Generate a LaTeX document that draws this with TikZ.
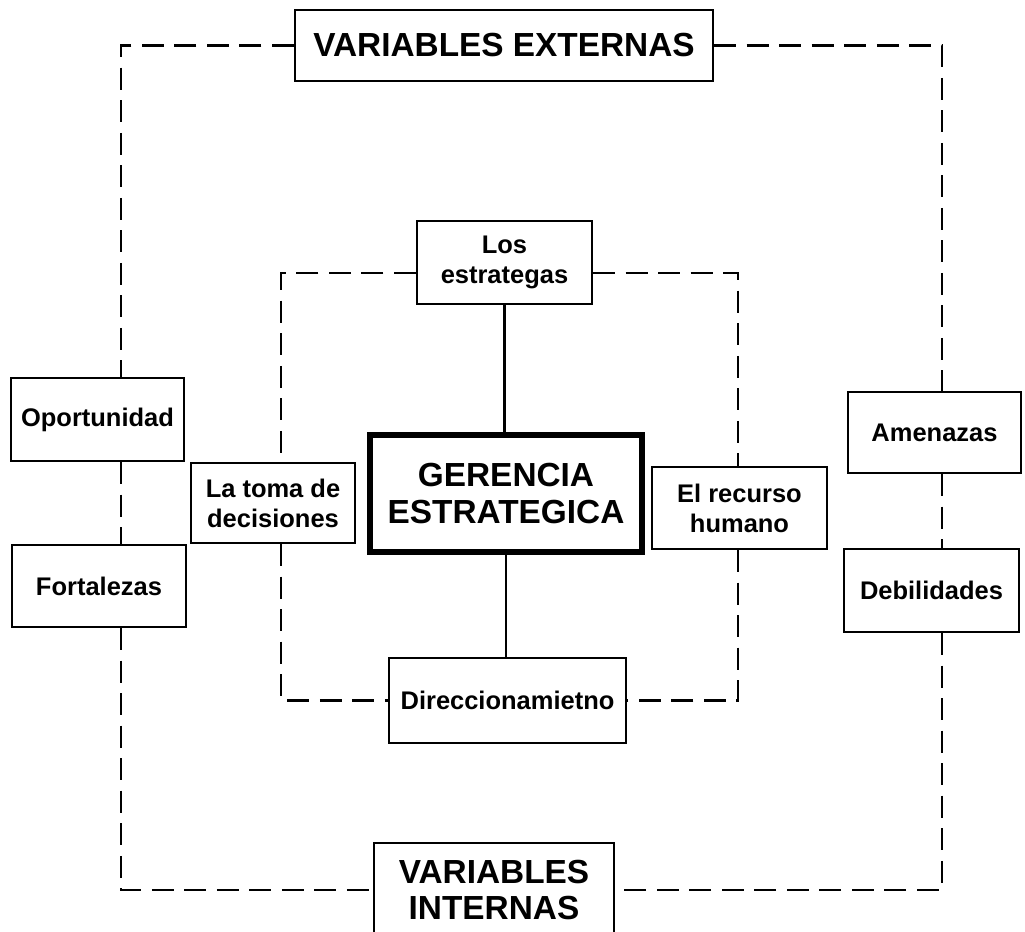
\documentclass[tikz,border=0pt]{standalone}
\usepackage{fontspec}
\setmainfont{Liberation Sans}
\tikzset{
  caja/.style={draw, line width=1.4pt, align=center, inner sep=0pt,
    font=\fontsize{14.5}{17}\selectfont\bfseries},
  titulo/.style={caja, font=\fontsize{19}{21}\selectfont\bfseries},
  tam/.style 2 args={minimum width=#1*0.02cm, minimum height=#2*0.02cm},
  guion/.style={line width=1.5pt, dash pattern=on 12.5pt off 6pt},
}
\begin{document}
\begin{tikzpicture}[x=0.02cm, y=-0.02cm] %Gerencia estrategica
            \useasboundingbox (0,0) rectangle (1025,932);

            \node[titulo, tam={418}{71}] (ext) at (504,45.5) {VARIABLES EXTERNAS};
            \node[titulo, tam={240}{94}] (int) at (494,890) {VARIABLES\\INTERNAS};

            \node[caja, tam={173}{83}] (opor) at (97.5,419.5) {Oportunidad};
            \node[caja, tam={174}{82}] (fort) at (99,586) {Fortalezas};
            \node[caja, tam={173}{81}] (amen) at (934.5,432.5) {Amenazas};
            \node[caja, tam={175}{83}] (debi) at (931.5,590.5) {Debilidades};

            \node[caja, tam={175}{83}] (estr) at (504.5,262.5) {Los\\estrategas};
            \node[caja, tam={237}{85}] (dire) at (507.5,700.5) {Direccionamietno};
            \node[caja, tam={164}{80}] (toma) at (273,503) {La toma de\\decisiones};
            \node[caja, tam={175}{82}] (recu) at (739.5,508) {El recurso\\humano};
            \node[titulo, line width=3.2pt, tam={272}{117}] (ger) at (506,493.5) {GERENCIA\\ESTRATEGICA};

            \coordinate (ol) at (121,0);
            \coordinate (or) at (942,0);
            \coordinate (il) at (281,0);
            \coordinate (ir) at (738,0);
            \coordinate (it) at (0,273);

            %marco externo
            \draw[guion] (ext.west) -| (opor.north -| ol);
            \draw[guion] (opor.south -| ol) -- (fort.north -| ol);
            \draw[guion] (fort.south -| ol) |- (int.west);
            \draw[guion] (ext.east) -| (amen.north -| or);
            \draw[guion] (amen.south -| or) -- (debi.north -| or);
            \draw[guion] (debi.south -| or) |- (int.east);

            %marco interno
            \draw[guion] (estr.west |- it) -| (toma.north -| il);
            \draw[guion] (toma.south -| il) |- (dire.west);
            \draw[guion] (estr.east |- it) -| (recu.north -| ir);
            \draw[guion] (recu.south -| ir) |- (dire.east);

            \draw[line width=1.5pt] (estr.south) -- (estr.south |- ger.north);
            \draw[line width=1.5pt] (ger.south) -- (ger.south |- dire.north);
        \end{tikzpicture}
\end{document}
